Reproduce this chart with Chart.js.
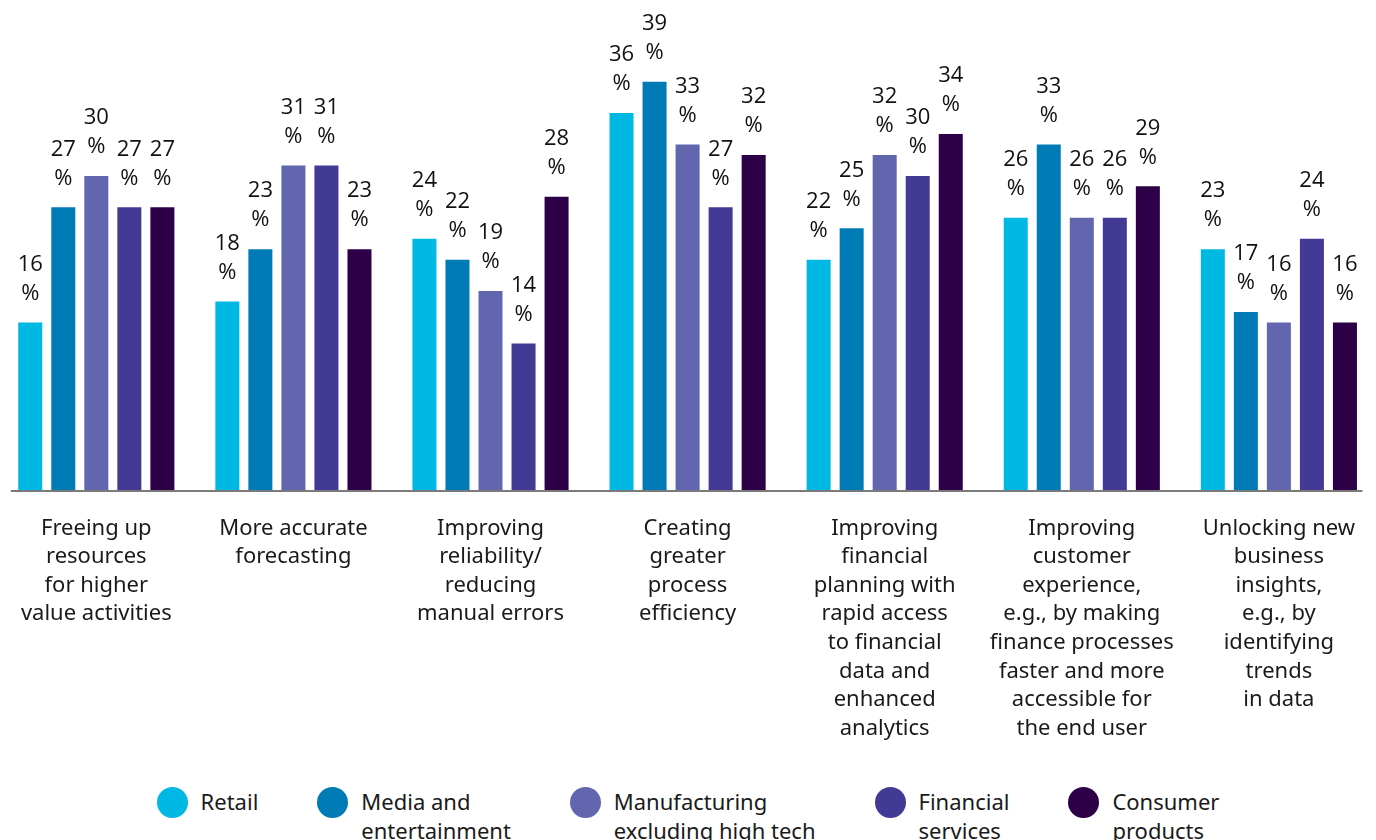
<!DOCTYPE html>
<html>
<head>
<meta charset="utf-8">
<script src="https://cdn.jsdelivr.net/npm/chart.js@4"></script>
<style>
  html, body { margin: 0; padding: 0; background: #fff; overflow: hidden; }
  #wrap { position: relative; width: 1376px; height: 840px; }
  #chart { position: absolute; left: -3px; top: 0; }
  #legend {
    position: absolute; left: 0; top: 787px; width: 1376px;
    display: flex; justify-content: center; gap: 59px;
    font-family: "Noto Sans", sans-serif; font-size: 22px; line-height: 29px; color: #1a1a1a;
  }
  .item { display: flex; align-items: flex-start; }
  .dot { width: 31px; height: 31px; border-radius: 50%; margin-right: 13px; flex: none; }
</style>
</head>
<body>
<div id="wrap">
  <canvas id="chart" width="1382" height="760"></canvas>
  <div id="legend"></div>
</div>
<script>
const categories = [
  ['Freeing up', 'resources', 'for higher', 'value activities'],
  ['More accurate', 'forecasting'],
  ['Improving', 'reliability/', 'reducing', 'manual errors'],
  ['Creating', 'greater', 'process', 'efficiency'],
  ['Improving', 'financial', 'planning with', 'rapid access', 'to financial', 'data and', 'enhanced', 'analytics'],
  ['Improving', 'customer', 'experience,', 'e.g., by making', 'finance processes', 'faster and more', 'accessible for', 'the end user'],
  ['Unlocking new', 'business', 'insights,', 'e.g., by', 'identifying', 'trends', 'in data']
];

const seriesNames = [
  ['Retail'],
  ['Media and', 'entertainment'],
  ['Manufacturing', 'excluding high tech'],
  ['Financial', 'services'],
  ['Consumer', 'products']
];
const seriesColors = ['#00b8e4', '#007bb6', '#6166af', '#433a95', '#2d0048'];

const retail        = [16, 18, 24, 36, 22, 26, 23];
const media         = [27, 23, 22, 39, 25, 33, 17];
const manufacturing = [30, 31, 19, 33, 32, 26, 16];
const financial     = [27, 31, 14, 27, 30, 26, 24];
const consumer      = [27, 23, 28, 32, 34, 29, 16];
const seriesValues = [retail, media, manufacturing, financial, consumer];

// value labels: number on one line, % under it
const valueLabels = {
  id: 'valueLabels',
  afterDatasetsDraw(chart) {
    const ctx = chart.ctx;
    ctx.save();
    ctx.font = '22px "Open Sans", "Noto Sans", sans-serif';
    ctx.fillStyle = '#111';
    ctx.textAlign = 'center';
    ctx.textBaseline = 'middle';
    chart.data.datasets.forEach((ds, i) => {
      chart.getDatasetMeta(i).data.forEach((bar, j) => {
        ctx.fillText(String(ds.data[j]), bar.x, bar.y - 58);
        ctx.fillText('%', bar.x, bar.y - 29);
      });
    });
    ctx.restore();
  }
};

// baseline drawn slightly inset from the chart edges
const baseline = {
  id: 'baseline',
  afterDatasetsDraw(chart) {
    const { ctx, chartArea, scales } = chart;
    const y = scales.y.getPixelForValue(0);
    ctx.save();
    ctx.strokeStyle = '#7a7a7a';
    ctx.lineWidth = 2;
    ctx.beginPath();
    ctx.moveTo(chartArea.left + 13, y + 1);
    ctx.lineTo(chartArea.right - 15, y + 1);
    ctx.stroke();
    ctx.restore();
  }
};

new Chart(document.getElementById('chart'), {
  type: 'bar',
  data: {
    labels: categories,
    datasets: seriesValues.map((vals, i) => ({
      label: seriesNames[i].join(' '),
      data: vals,
      backgroundColor: seriesColors[i],
      barPercentage: 0.727,
      categoryPercentage: 0.838
    }))
  },
  options: {
    responsive: false,
    animation: false,
    layout: { padding: 0 },
    plugins: {
      legend: { display: false },
      tooltip: { enabled: false }
    },
    scales: {
      x: {
        grid: { display: false, drawTicks: false },
        border: { display: false },
        ticks: {
          padding: 24,
          maxRotation: 0,
          autoSkip: false,
          color: '#1a1a1a',
          font: { family: '"Noto Sans", sans-serif', size: 22, lineHeight: 1.3 }
        },
        afterFit(scale) { scale.height = 270; }
      },
      y: {
        display: false,
        min: 0,
        max: 46.8
      }
    }
  },
  plugins: [valueLabels, baseline]
});

const legend = document.getElementById('legend');
seriesNames.forEach((name, i) => {
  const item = document.createElement('div');
  item.className = 'item';
  item.innerHTML = `<span class="dot" style="background:${seriesColors[i]}"></span><span>${name.join('<br>')}</span>`;
  legend.appendChild(item);
});
</script>
</body>
</html>
